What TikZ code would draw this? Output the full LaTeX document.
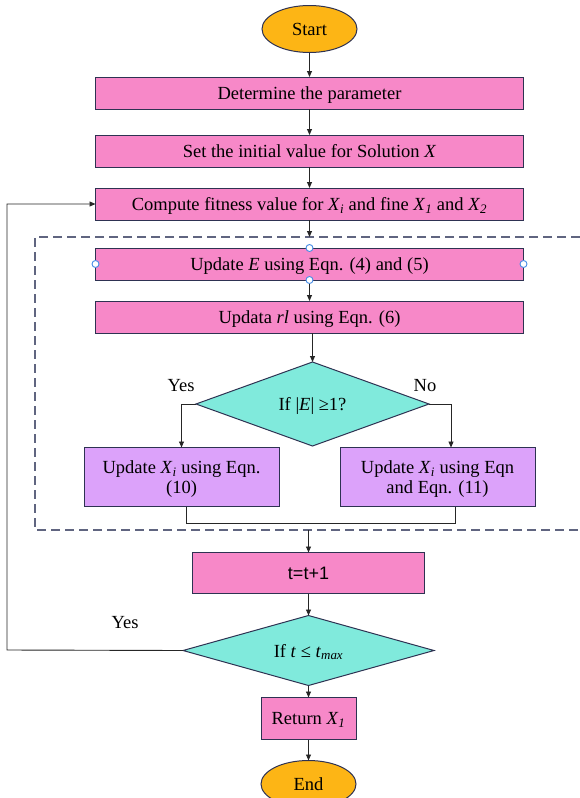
\documentclass[tikz,border=0pt]{standalone}
\usepackage{fontspec}
\setmainfont{Liberation Serif}
\setsansfont{Liberation Sans}
\usetikzlibrary{arrows.meta,positioning,shapes.geometric,calc}
\definecolor{procfill}{RGB}{247,136,200}
\definecolor{subfill}{RGB}{220,162,250}
\definecolor{decfill}{RGB}{128,234,220}
\definecolor{termfill}{RGB}{253,181,21}
\definecolor{edgeline}{RGB}{46,50,82}
\definecolor{dashline}{RGB}{96,101,128}
\definecolor{handleblue}{RGB}{70,140,230}
\newcommand{\vx}[1]{\textit{X}\textsubscript{\textit{#1}}}

\begin{document}
\begin{tikzpicture}[
  x=1pt,y=-1pt,
  font=\fontsize{18.5}{20}\selectfont,
  box/.style={draw=edgeline,line width=1pt,outer sep=0pt,align=center,inner sep=2pt,text depth=0pt},
  proc/.style={box,fill=procfill,minimum width=428pt,minimum height=32pt},
  sub/.style={box,fill=subfill,minimum width=195pt,minimum height=59pt},
  dec/.style={box,diamond,fill=decfill,aspect=2.8,inner sep=0pt},
  term/.style={box,ellipse,fill=termfill,minimum width=95pt,minimum height=47pt},
  lbl/.style={inner sep=1pt},
  arr/.style={-{Triangle[length=6pt,width=5pt]},black!85,line width=0.9pt},
  lnk/.style={black!85,line width=0.9pt},
  dashbox/.style={dashline,line width=1.3pt,dash pattern=on 9pt off 5pt},
  handle/.style={draw=handleblue,fill=white,line width=0.9pt}
]
\useasboundingbox (0,0) rectangle (580,798);

\node[term] (start) at (309.5,29) {Start};
\node[proc,below=24.5pt of start] (det) {Determine the parameter};
\node[proc,below=26pt of det] (init) {Set the initial value for Solution \textit{X}};
\node[proc,below=21pt of init] (fit) {Compute fitness value for \vx{i} and fine \vx{1} and \vx{2}};
\node[proc,below=28pt of fit] (upe) {Update \textit{E} using Eqn. (4) and (5)};
\node[proc,below=21pt of upe] (uprl) {Updata \textit{rl} using Eqn. (6)};
\node[dec,below=29pt of uprl,xshift=3pt,minimum width=233pt,minimum height=84pt] (cond)
  {If |\textit{E}| ≥1?};
\node[sub] (updl) at (181.5,477) {Update \vx{i} using Eqn.\\(10)};
\node[sub] (updr) at (437.5,477) {Update \vx{i} using Eqn\\and Eqn. (11)};

% dashed frame round the update steps
\coordinate (dtl) at (35,237);
\coordinate (dbl) at (35,530);
\draw[dashbox] (dtl -| 580,0) -- (dtl) -- (dbl) -- (dbl -| 580,0);

\node[proc,minimum width=232pt,minimum height=41pt,font=\sffamily\fontsize{18}{20}\selectfont]
  (tinc) at (308.5,573) {t=t+1};
\node[dec,below=22pt of tinc,minimum width=251pt,minimum height=70pt] (stop)
  {If \textit{t} ≤ \textit{t}\textsubscript{\textit{max}}};
\node[proc,below=12pt of stop,minimum width=95pt,minimum height=42pt] (ret) {Return \vx{1}};
\node[term,below=21pt of ret] (end) {End};

\node[lbl] (yes1) at (181,386) {Yes};
\node[lbl] (no1) at (425,386) {No};
\node[lbl] (yes2) at (125,623) {Yes};

\draw[arr] (start) -- (det);
\draw[arr] (det) -- (init);
\draw[arr] (init) -- (fit);
\draw[arr] (fit.south) -- (fit.south |- dtl);
\draw[arr] (upe) -- (uprl);
\draw[arr] (cond.north |- uprl.south) -- (cond.north);
\draw[arr] (cond.west) -| (updl.north);
\draw[arr] (cond.east) -| ([xshift=13.5pt]updr.north);
\draw[lnk] ([xshift=5pt]updl.south) -- ++(0,17) -| ([xshift=18pt]updr.south);
\draw[arr] (tinc.north |- dbl) -- (tinc.north);
\draw[arr] (tinc) -- (stop);
\draw[arr] (stop) -- (ret);
\draw[arr] (ret) -- (end);
\coordinate (back) at (7,650);
\draw[arr] (stop.west) -- (back) |- (fit.west);

\foreach \a in {north,south,east,west}
  \draw[handle] (upe.\a) circle (3.5pt);
\end{tikzpicture}
\end{document}
